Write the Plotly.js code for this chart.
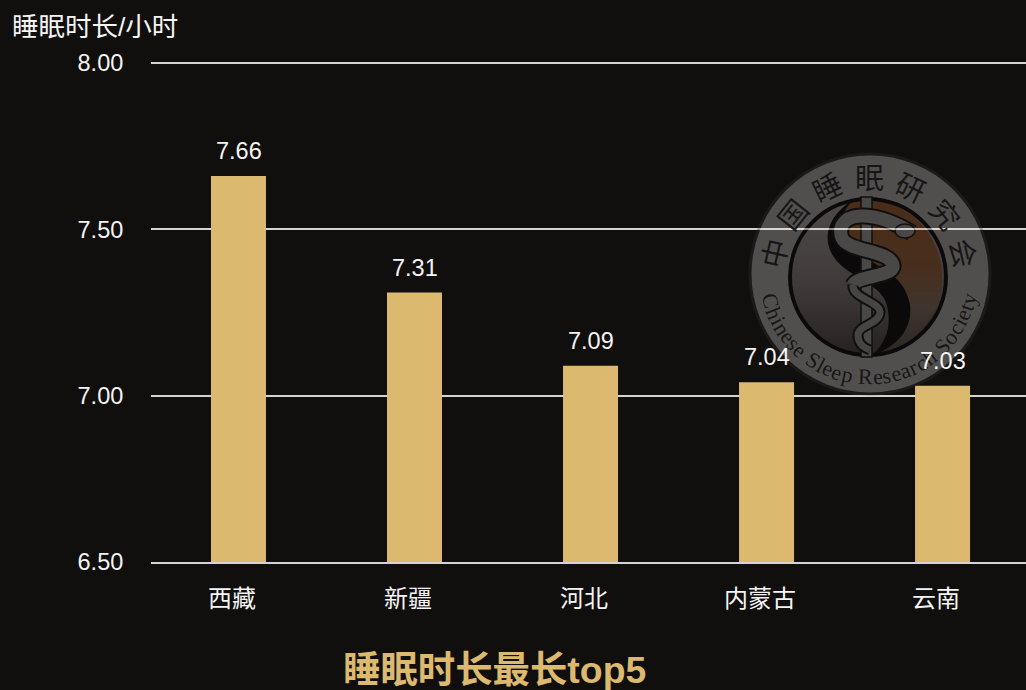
<!DOCTYPE html>
<html><head><meta charset="utf-8">
<script src="https://cdn.plot.ly/plotly-3.0.1.min.js"></script>
<style>html,body{margin:0;padding:0;background:#110e0e;overflow:hidden}</style>
</head><body><div id="chart" style="width:1026px;height:690px"></div>
<script>
const categories = ['西藏','新疆','河北','内蒙古','云南'];
const sleepHours = [7.66,7.31,7.09,7.04,7.03];
const valueLabels = ['7.66','7.31','7.09','7.04','7.03'];
const yTicks = [6.5,7,7.5,8];
const yTickLabels = ['6.50','7.00','7.50','8.00'];
const logoCn = '中国睡眠研究会';
const logoEn = 'Chinese Sleep Research Society';

const W=1026,H=690,L=151,T=59,B=562,PW=W-L,PH=B-T;
const px=x=>(x-L)/PW, py=y=>1-(y-T)/PH;
const sans='"Liberation Sans","Noto Sans CJK SC",sans-serif';
const white='#f4f4f4', gold='#dbb96f', grid='#d6d4d2';

const snakeA='M912 233C895 222 875 215 860 216C843 217 838 228 842 238C848 252 890 250 893 265C895 277 858 275 853 285';
const snakeB='M853 285C851 298 882 302 880 313C878 325 858 325 858 335C858 345 865 348 870 350';
const art=`<svg xmlns="http://www.w3.org/2000/svg" viewBox="740 146 260 258" width="520" height="516">
<defs>
<linearGradient id="l" x1="0" y1="0" x2="0" y2="1"><stop offset="0" stop-color="#d8d4cf"/><stop offset=".55" stop-color="#aaa29e"/><stop offset="1" stop-color="#5a4c4c"/></linearGradient>
<linearGradient id="r" x1="0" y1="0" x2="0" y2="1"><stop offset="0" stop-color="#cf7430"/><stop offset=".45" stop-color="#c47a40"/><stop offset=".7" stop-color="#a89078"/><stop offset="1" stop-color="#6a5a55"/></linearGradient>
</defs>
<g opacity=".3">
<circle cx="870" cy="274" r="120" fill="#e6e4e2" stroke="#333" stroke-width="3"/>
<circle cx="868" cy="277" r="78" fill="url(#l)"/>
<path d="M855 199C835 215 838 240 855 252C880 268 905 275 910 305C913 330 895 348 872 355A78 78 0 0 0 855 199Z" fill="url(#r)"/>
<path d="M855 199C835 215 838 240 855 252C880 268 905 275 910 305C913 330 895 348 872 355C890 340 892 318 885 300C875 280 840 275 830 250C822 230 835 210 855 199Z" fill="#000"/>
<circle cx="868" cy="277" r="78" fill="none" stroke="#000" stroke-width="4"/>
<rect x="861" y="197" width="11" height="160" fill="#cfcdcb" stroke="#111" stroke-width="1.5"/>
<path d="${snakeA}" fill="none" stroke="#111" stroke-width="17"/>
<path d="${snakeA}" fill="none" stroke="#cfcdcb" stroke-width="13"/>
<path d="${snakeB}" fill="none" stroke="#111" stroke-width="11"/>
<path d="${snakeB}" fill="none" stroke="#c4c2c0" stroke-width="7"/>
<ellipse cx="905" cy="231" rx="10" ry="7" fill="#cfcdcb" stroke="#111" stroke-width="1.5"/>
</g></svg>`;

// logo lettering around the ring
const annotations=[];
const cx=869,cy=275,inkCol='rgba(20,18,18,0.95)';
[...logoCn].forEach((ch,i)=>{
  const deg=-77+i*154/6, a=deg*Math.PI/180, r=99;
  annotations.push({xref:'paper',yref:'paper',x:px(cx+r*Math.sin(a)),y:py(cy-r*Math.cos(a)),text:ch,showarrow:false,
    xanchor:'center',yanchor:'middle',textangle:deg,font:{family:'"Noto Sans CJK SC"',size:29,color:inkCol}});
});
const ctx=document.createElement('canvas').getContext('2d');
const enSize=22;ctx.font=enSize+'px "Liberation Serif"';
const widths=[...logoEn].map(c=>ctx.measureText(c).width);
const total=widths.reduce((a,b)=>a+b,0), rEn=102;
let run=-total/2;
[...logoEn].forEach((ch,i)=>{
  const mid=run+widths[i]/2; run+=widths[i];
  if(ch===' ')return;
  const a=mid/rEn;
  annotations.push({xref:'paper',yref:'paper',x:px(cx+rEn*Math.sin(a)),y:py(cy+rEn*Math.cos(a)),text:ch,showarrow:false,
    xanchor:'center',yanchor:'middle',textangle:-a*180/Math.PI,font:{family:'"Liberation Serif"',size:enSize,color:inkCol}});
});
// value labels above bars
categories.forEach((c,i)=>annotations.push({x:c,y:sleepHours[i],text:valueLabels[i],showarrow:false,xanchor:'center',yanchor:'bottom',
  xshift:7,yshift:10,font:{family:sans,size:23.5,color:white}}));
annotations.push({xref:'paper',yref:'paper',x:px(10),y:py(27),text:'睡眠时长/小时',showarrow:false,xanchor:'left',yanchor:'middle',
  font:{family:sans,size:26.5,color:white}});
annotations.push({xref:'paper',yref:'paper',x:px(494),y:py(670),text:'<b>睡眠时长最长top5</b>',showarrow:false,xanchor:'center',yanchor:'middle',
  font:{family:sans,size:37.4,color:gold}});

Plotly.newPlot('chart',[{type:'bar',x:categories,y:sleepHours,width:0.3125,offset:-0.1193,marker:{color:gold},hoverinfo:'none',cliponaxis:true}],{
  width:W,height:H,margin:{l:L,r:0,t:T,b:H-B,pad:0},showlegend:false,
  paper_bgcolor:'#110e0e',plot_bgcolor:'#110e0e',
  xaxis:{type:'category',range:[-0.46,4.511],showgrid:false,zeroline:false,showline:true,linecolor:grid,linewidth:2,
    ticks:'outside',ticklen:14,tickcolor:'rgba(0,0,0,0)',tickfont:{family:sans,size:24,color:white}},
  yaxis:{range:[6.5,8+4/332.67],tickvals:yTicks,ticktext:yTickLabels,showgrid:true,gridcolor:grid,gridwidth:2,zeroline:false,showline:false,
    ticks:'outside',ticklen:22,tickcolor:'rgba(0,0,0,0)',tickfont:{family:sans,size:23.5,color:white}},
  images:[{source:'data:image/svg+xml;base64,'+btoa(art),xref:'paper',yref:'paper',x:px(740),y:py(146),sizex:260/PW,sizey:258/PH,
    xanchor:'left',yanchor:'top',sizing:'stretch',layer:'above'}],
  annotations
},{displayModeBar:false,staticPlot:true});
</script></body></html>
